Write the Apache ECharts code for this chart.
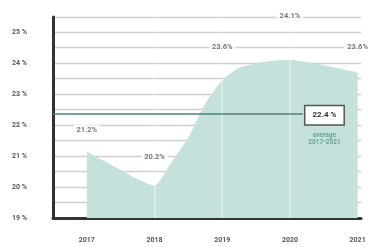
<!DOCTYPE html>
<html lang="en">
<head>
<meta charset="UTF-8">
<title>Share</title>
<script src="https://cdn.jsdelivr.net/npm/echarts@6/dist/echarts.min.js"></script>
<style>
  html, body { margin: 0; padding: 0; background: #fff; }
  #chart { width: 372px; height: 247px; }
</style>
</head>
<body>
<div id="chart"></div>
<script>
// quarterly curve
var quarters = [2017, 2017.25, 2017.5, 2017.75, 2018, 2018.25, 2018.5, 2018.75, 2019,
                2019.25, 2019.5, 2019.75, 2020, 2020.25, 2020.5, 2020.75, 2021];
var shareQ = [21.15, 20.85, 20.55, 20.25, 20.05, 20.8, 21.6, 22.7, 23.45,
              23.85, 24.0, 24.08, 24.1, 24.03, 23.93, 23.82, 23.7];

// yearly labels
var years = [2017, 2018, 2019, 2020, 2021];
var yearly = [21.2, 20.2, 23.6, 24.1, 23.6];

var avgValue = 22.35;
var avgText = '22.4 %';
var avgNote = ['average', '2017-2021'];

// how far each yearly label sits above its point
var lift = [15, 19, 23, 39, 23];

var chart = echarts.init(document.getElementById('chart'));

var curve = quarters.map(function (q, i) { return [q, shareQ[i]]; });
var yearLabels = years.map(function (y, i) {
  return { value: [y, yearly[i]], label: { distance: lift[i] } };
});

var option = {
  animation: false,
  backgroundColor: '#fff',
  textStyle: { fontFamily: 'Roboto' },
  grid: { left: 53, right: 11, top: 17, bottom: 29 },
  xAxis: {
    type: 'value',
    min: 2016.5,
    max: 2021.05,
    axisLine: { lineStyle: { color: '#333', width: 3 } },
    axisTick: { show: false },
    splitLine: { show: false },
    axisLabel: {
      customValues: years,
      margin: 19,
      fontSize: 7,
      fontWeight: 'bold',
      color: '#555',
      formatter: function (v) { return String(v); }
    }
  },
  yAxis: {
    type: 'value',
    min: 19,
    max: 25.49,
    interval: 0.5,
    axisLine: { show: true, lineStyle: { color: '#333', width: 3 } },
    axisTick: { show: false },
    splitLine: { lineStyle: { color: '#cfcfcf', width: 1.3 } },
    axisLabel: {
      margin: 26,
      fontSize: 7,
      fontWeight: 'bold',
      color: '#555',
      formatter: function (v) { return v % 1 === 0 ? v + ' %' : ''; }
    }
  },
  series: [
    {
      type: 'line',
      data: curve,
      symbol: 'none',
      smooth: 0.2,
      lineStyle: { width: 0 },
      areaStyle: { color: '#c4e2db', opacity: 1, origin: 'start' },
      z: 2,
      markLine: {
        silent: true,
        symbol: 'none',
        label: { show: false },
        data: [
          { xAxis: 2018, lineStyle: { color: 'rgba(255,255,255,0.45)', width: 1.5, type: 'solid' } },
          { xAxis: 2019, lineStyle: { color: 'rgba(255,255,255,0.45)', width: 1.5, type: 'solid' } },
          { xAxis: 2020, lineStyle: { color: 'rgba(255,255,255,0.45)', width: 1.5, type: 'solid' } },
          [
            { coord: [2016.5, avgValue], lineStyle: { color: '#4f7f76', width: 1.5, type: 'solid' } },
            { coord: [2020.19, avgValue] }
          ]
        ]
      },
      markPoint: {
        silent: true,
        symbolSize: 0,
        data: [{
          coord: [2020.51, avgValue],
          label: {
            show: true,
            position: [0, 0],
            align: 'center',
            verticalAlign: 'top',
            offset: [0, -11],
            formatter: '{b|' + avgText + '}\n{s1|' + avgNote[0] + '}\n{s|' + avgNote[1] + '}',
            rich: {
              b: {
                fontSize: 8, fontWeight: 'bold', color: '#333',
                backgroundColor: '#fff', borderColor: '#555', borderWidth: 1.5,
                padding: [5, 7, 5, 7], lineHeight: 24
              },
              s1: { fontSize: 6.5, color: '#6aa596', lineHeight: 10, fontWeight: 'bold', padding: [6, 0, 0, 0] },
              s: { fontSize: 6.5, color: '#6aa596', lineHeight: 10, fontWeight: 'bold' }
            }
          }
        }]
      }
    },
    {
      type: 'scatter',
      data: yearLabels,
      symbolSize: 0,
      z: 5,
      label: {
        show: true,
        position: 'top',
        fontSize: 7.5,
        fontWeight: 'bold',
        color: '#555',
        backgroundColor: '#fff',
        padding: [1, 3],
        formatter: function (p) { return p.value[1].toFixed(1) + '%'; }
      }
    }
  ]
};

chart.setOption(option);
</script>
</body>
</html>
